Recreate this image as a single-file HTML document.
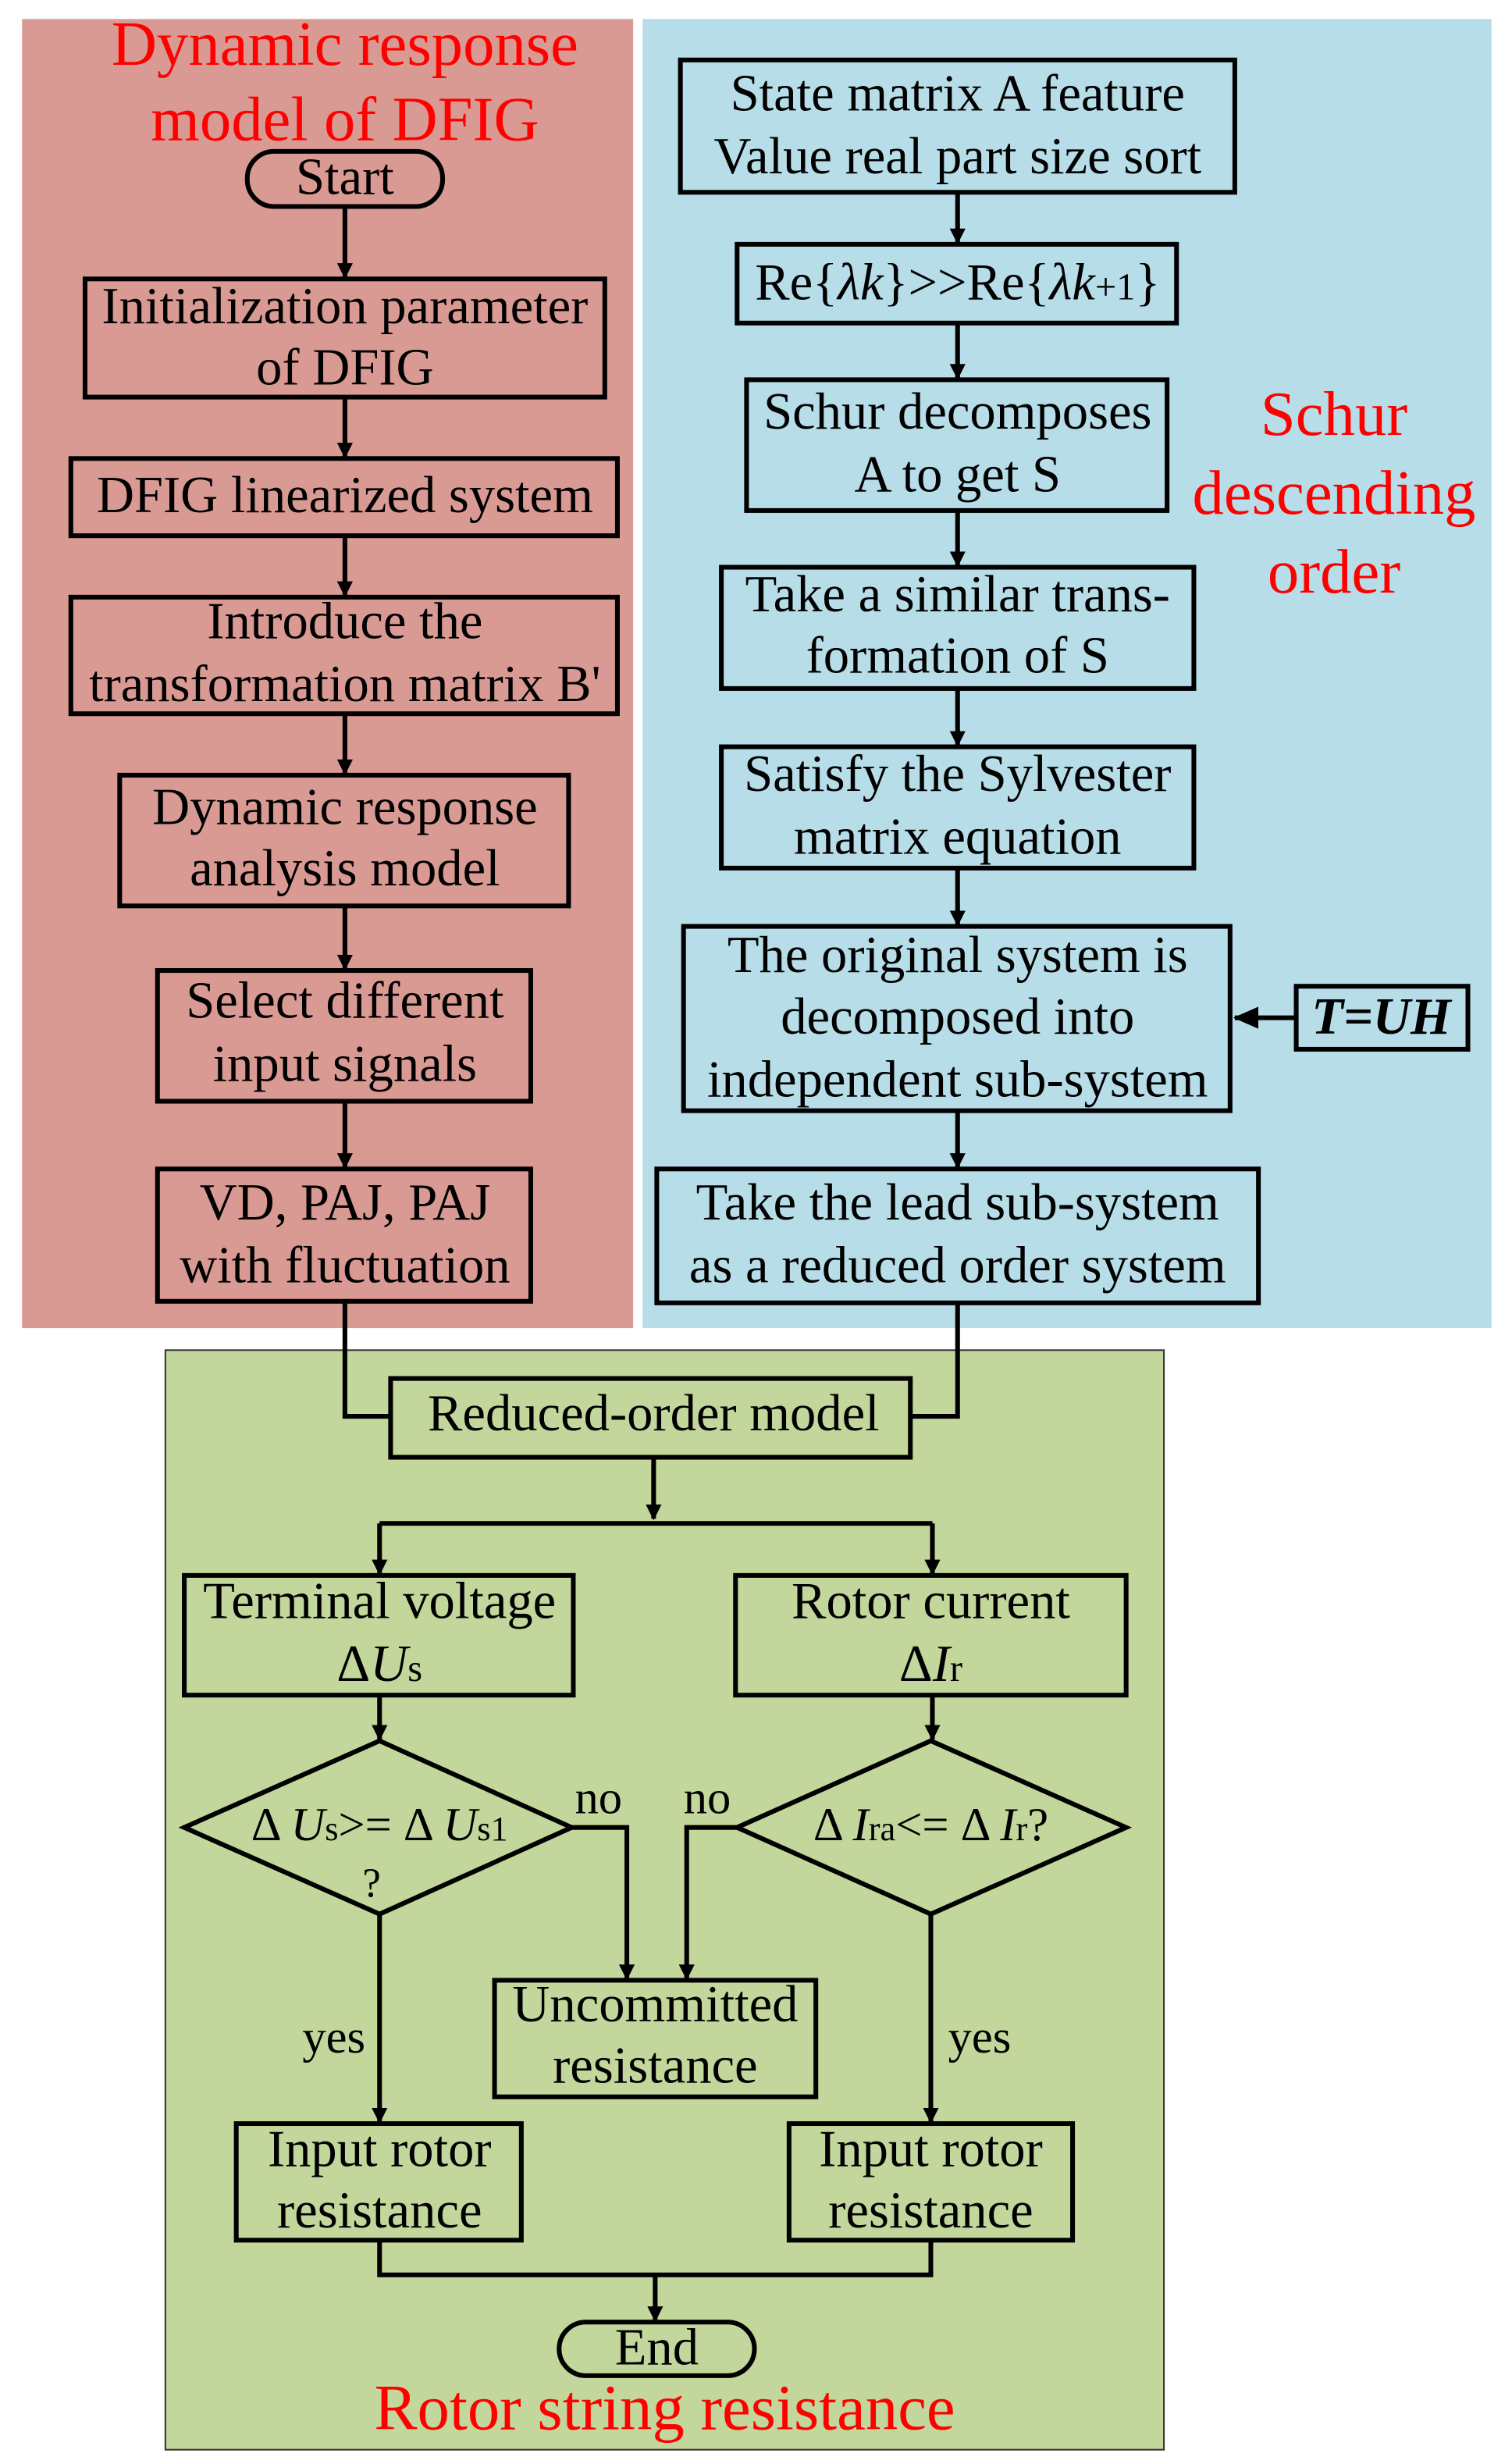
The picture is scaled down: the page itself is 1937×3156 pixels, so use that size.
<!DOCTYPE html>
<html><head><meta charset="utf-8"><style>html,body{margin:0;padding:0;background:#fff}svg{display:block}</style></head><body>
<svg width="1937" height="3156" viewBox="0 0 960 1564" xmlns="http://www.w3.org/2000/svg" font-family="'Liberation Serif', serif">
<defs><marker id="a" markerWidth="10" markerHeight="10" refX="9" refY="5" orient="auto" markerUnits="userSpaceOnUse"><path d="M0,0 L10,5 L0,10 z" fill="#000"/></marker>
<marker id="b" markerWidth="16" markerHeight="16" refX="15" refY="8" orient="auto" markerUnits="userSpaceOnUse"><path d="M0,1 L16,8 L0,15 z" fill="#000"/></marker></defs>
<rect x="14" y="12" width="388" height="831" fill="#d99a94"/>
<rect x="408" y="12" width="539" height="831" fill="#b7dde8"/>
<rect x="105" y="857" width="634" height="698" fill="#c3d69b" stroke="#333" stroke-width="1"/>
<g fill="#ff0000" font-size="40" text-anchor="middle">
<text x="219" y="41">Dynamic response</text><text x="219" y="89">model of DFIG</text>
<text x="847" y="276">Schur</text><text x="847" y="326">descending</text><text x="847" y="376">order</text>
<text x="422" y="1542" font-size="41">Rotor string resistance</text></g>
<g fill="none" stroke="#000" stroke-width="3">
<rect x="157" y="96" width="124" height="35" rx="17"/>
<rect x="54" y="177" width="330" height="75"/>
<rect x="45" y="291" width="347" height="49"/>
<rect x="45" y="379" width="347" height="74"/>
<rect x="76" y="492" width="285" height="83"/>
<rect x="100" y="616" width="237" height="83"/>
<rect x="100" y="742" width="237" height="84"/>
<rect x="432" y="38" width="352" height="84"/>
<rect x="468" y="155" width="279" height="50"/>
<rect x="474" y="241" width="267" height="83"/>
<rect x="458" y="360" width="300" height="77"/>
<rect x="458" y="474" width="300" height="77"/>
<rect x="434" y="588" width="347" height="117"/>
<rect x="823" y="626" width="109" height="40"/>
<rect x="417" y="742" width="382" height="85"/>
<rect x="248" y="875" width="330" height="50"/>
<rect x="117" y="1000" width="247" height="76"/>
<rect x="467" y="1000" width="248" height="76"/>
<path d="M117,1160 L241,1105 L363,1160 L241,1215 Z"/>
<path d="M468,1160 L591,1105 L715,1160 L591,1215 Z"/>
<rect x="314" y="1257" width="204" height="74"/>
<rect x="150" y="1348" width="181" height="74"/>
<rect x="501" y="1348" width="180" height="74"/>
<rect x="355" y="1474" width="124" height="34" rx="17"/>
</g>
<g fill="none" stroke="#000" stroke-width="3" marker-end="url(#a)">
<path d="M219,131V176"/><path d="M219,252V290"/><path d="M219,340V378"/><path d="M219,453V491"/><path d="M219,575V615"/><path d="M219,699V741"/>
<path d="M608,122V154"/><path d="M608,205V240"/><path d="M608,324V359"/><path d="M608,437V473"/><path d="M608,551V587"/><path d="M608,705V741"/>
<path d="M415,925V964"/><path d="M241,967V999"/><path d="M592,967V999"/>
<path d="M241,1076V1104"/><path d="M592,1076V1104"/>
<path d="M363,1160H398V1256"/><path d="M468,1160H436V1256"/>
<path d="M241,1215V1347"/><path d="M591,1215V1347"/>
<path d="M416,1444V1473"/>
</g>
<g fill="none" stroke="#000" stroke-width="3">
<path d="M219,826V899H248"/><path d="M608,827V899H578"/><path d="M241,967H592"/>
<path d="M241,1422V1444H591V1422"/>
<path d="M823,646H784" marker-end="url(#b)"/>
</g>
<g font-size="33" text-anchor="middle" fill="#000">
<text x="219" y="123">Start</text>
<text x="219" y="205">Initialization parameter</text><text x="219" y="244">of DFIG</text>
<text x="219" y="325">DFIG linearized system</text>
<text x="219" y="405">Introduce the</text><text x="219" y="445">transformation matrix B'</text>
<text x="219" y="523">Dynamic response</text><text x="219" y="562">analysis model</text>
<text x="219" y="646">Select different</text><text x="219" y="686">input signals</text>
<text x="219" y="774">VD, PAJ, PAJ</text><text x="219" y="814">with fluctuation</text>
<text x="608" y="70">State matrix A feature</text><text x="608" y="110">Value real part size sort</text>
<text x="608" y="190">Re{<tspan font-style="italic">λk</tspan>}&gt;&gt;Re{<tspan font-style="italic">λk</tspan><tspan font-size="24">+1</tspan>}</text>
<text x="608" y="272">Schur decomposes</text><text x="608" y="312">A to get S</text>
<text x="608" y="388">Take a similar trans-</text><text x="608" y="427">formation of S</text>
<text x="608" y="502">Satisfy the Sylvester</text><text x="608" y="542">matrix equation</text>
<text x="608" y="617">The original system is</text><text x="608" y="656">decomposed into</text><text x="608" y="696">independent sub-system</text>
<text x="877" y="656" font-weight="bold" font-style="italic">T=UH</text>
<text x="608" y="774">Take the lead sub-system</text><text x="608" y="814">as a reduced order system</text>
<text x="415" y="908">Reduced-order model</text>
<text x="241" y="1027">Terminal voltage</text><text x="241" y="1067">Δ<tspan font-style="italic">U</tspan><tspan font-size="24">s</tspan></text>
<text x="591" y="1027">Rotor current</text><text x="591" y="1067">Δ<tspan font-style="italic">I</tspan><tspan font-size="24">r</tspan></text>
<text x="241" y="1168" font-size="30">Δ <tspan font-style="italic">U</tspan><tspan font-size="22">s</tspan>&gt;= Δ <tspan font-style="italic">U</tspan><tspan font-size="22">s1</tspan></text>
<text x="236" y="1204" font-size="26">?</text>
<text x="591" y="1168" font-size="30">Δ <tspan font-style="italic">I</tspan><tspan font-size="22">ra</tspan>&lt;= Δ <tspan font-style="italic">I</tspan><tspan font-size="22">r</tspan>?</text>
<text x="380" y="1151" font-size="30">no</text><text x="449" y="1151" font-size="30">no</text>
<text x="212" y="1303" font-size="30">yes</text><text x="622" y="1303" font-size="30">yes</text>
<text x="416" y="1283">Uncommitted</text><text x="416" y="1322">resistance</text>
<text x="241" y="1375">Input rotor</text><text x="241" y="1414">resistance</text>
<text x="591" y="1375">Input rotor</text><text x="591" y="1414">resistance</text>
<text x="417" y="1501">End</text>
</g>
</svg>
</body></html>
